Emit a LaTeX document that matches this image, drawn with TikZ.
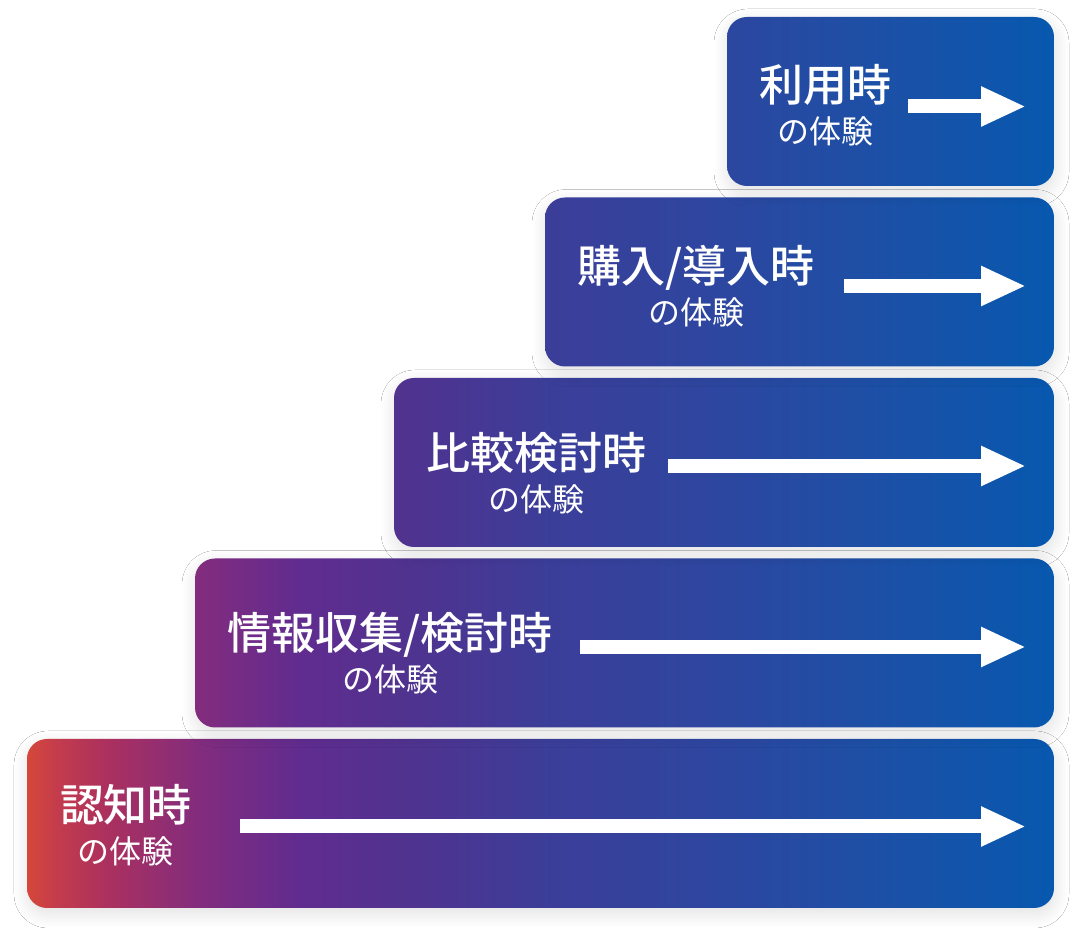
\documentclass[tikz,border=0pt]{standalone}
\usepackage{fontspec}
\newfontfamily\jpfont{Noto Sans CJK JP}[BoldFont={Noto Sans CJK JP Medium}]
\usetikzlibrary{arrows.meta,positioning,shadows.blur}
\definecolor{jr0}{HTML}{D5473A}
\definecolor{jr1}{HTML}{C23B4E}
\definecolor{jr2}{HTML}{AA305F}
\definecolor{jr3}{HTML}{822C7E}
\definecolor{jr4}{HTML}{602C8F}
\definecolor{jr5}{HTML}{51328F}
\definecolor{jr6}{HTML}{3B3E99}
\definecolor{jr7}{HTML}{2C47A0}
\definecolor{jr8}{HTML}{1A51A7}
\definecolor{jr9}{HTML}{0758AF}
\pgfdeclarehorizontalshading{journey}{100bp}{color(0bp)=(jr0); color(25bp)=(jr0); color(26.6bp)=(jr1); color(29bp)=(jr2); color(33.4bp)=(jr3); color(38.3bp)=(jr4); color(43.2bp)=(jr5); color(50.5bp)=(jr6); color(59.2bp)=(jr7); color(67.5bp)=(jr8); color(75bp)=(jr9); color(100bp)=(jr9)}
\tikzstyle{stage} = [rectangle, rounded corners=10pt, minimum height=84.5pt, inner sep=0pt, outer sep=0pt, blur shadow={shadow xshift=0.5pt, shadow yshift=-3pt, shadow blur radius=7pt, shadow blur steps=24, shadow opacity=12}, path picture={\shade[shading=journey] ([xshift=-513.5pt]path picture bounding box.south east) rectangle (path picture bounding box.north east);}]
\tikzstyle{stagetext} = [text=white, align=center, inner sep=0pt, font=\jpfont\fontsize{16}{21}\selectfont]
\tikzstyle{flow} = [draw=white, line width=7pt, -{Triangle[length=22.5pt, width=18.5pt]}]
\newcommand{\stagetitle}[1]{{\fontsize{22}{24}\selectfont\bfseries #1}}

\begin{document}
\begin{tikzpicture}[x=0.5pt, y=0.5pt]
		\path[use as bounding box, fill=white] (0,0) rectangle (1082,946);
		% Stages, bottom to top
		\node[stage, minimum width=513.5pt, anchor=south east](aware) at (1054,38) {};
		\node[stage, minimum width=429.5pt, above=5.75pt of aware.north east, anchor=south east](search) {};
		\node[stage, minimum width=330pt, above=5.75pt of search.north east, anchor=south east](compare) {};
		\node[stage, minimum width=254.5pt, above=5.75pt of compare.north east, anchor=south east](purchase) {};
		\node[stage, minimum width=163.5pt, above=5.75pt of purchase.north east, anchor=south east](usage) {};
		
		% Texts
		\node[stagetext](aware-t) at (126,121) {\stagetitle{認知時}\\の体験};
		\node[stagetext](search-t) at (390,293) {\stagetitle{情報収集/検討時}\\の体験};
		\node[stagetext](compare-t) at (536,473) {\stagetitle{比較検討時}\\の体験};
		\node[stagetext](purchase-t) at (696,660) {\stagetitle{購入/導入時}\\の体験};
		\node[stagetext](usage-t) at (825,841) {\stagetitle{利用時}\\の体験};
		
		% empty nodes for arrow ends
		\coordinate (aware-a) at (240,119.5);
		\coordinate (aware-b) at (1026,119.5);
		\coordinate (search-a) at (580,299);
		\coordinate (search-b) at (1026,299);
		\coordinate (compare-a) at (668,480);
		\coordinate (compare-b) at (1026,480);
		\coordinate (purchase-a) at (844,660);
		\coordinate (purchase-b) at (1026,660);
		\coordinate (usage-a) at (908,839.5);
		\coordinate (usage-b) at (1026,839.5);
		
		% Paths
		\path [flow] (aware-a) -- (aware-b);
		\path [flow] (search-a) -- (search-b);
		\path [flow] (compare-a) -- (compare-b);
		\path [flow] (purchase-a) -- (purchase-b);
		\path [flow] (usage-a) -- (usage-b);
		
	\end{tikzpicture}
\end{document}
